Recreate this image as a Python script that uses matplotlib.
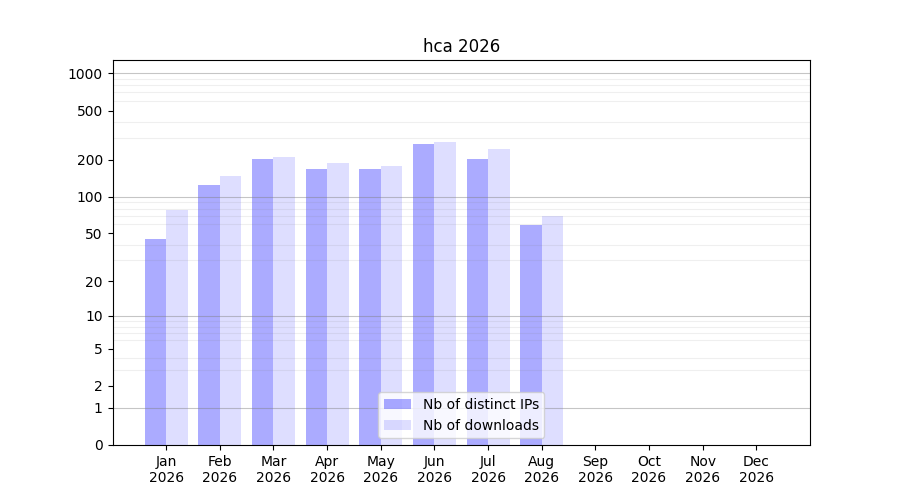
import numpy as np
import matplotlib
matplotlib.use("Agg")
import matplotlib.pyplot as plt

months = ["Jan", "Feb", "Mar", "Apr", "May", "Jun", "Jul", "Aug", "Sep", "Oct", "Nov", "Dec"]
year = "2026"
distinct_ips = [45, 124, 202, 168, 168, 268, 202, 59]
downloads = [78, 147, 210, 188, 178, 278, 244, 70]
yticks = [0, 1, 2, 5, 10, 20, 50, 100, 200, 500, 1000]


def fwd(y):
    return np.log10(np.maximum(y, 0) + 1)


def inv(y):
    return 10 ** y - 1


fig, ax = plt.subplots(figsize=(9, 5), dpi=100)

x = np.arange(1, len(distinct_ips) + 1)
ax.bar(x - 0.2, distinct_ips, width=0.4, color="blue", alpha=0.33, label="Nb of distinct IPs")
ax.bar(x + 0.2, downloads, width=0.4, color="blue", alpha=0.13, label="Nb of downloads")

ax.set_yscale("function", functions=(fwd, inv))
ax.set_yticks(yticks)
ax.set_yticklabels([str(t) for t in yticks])
minor = [m * 10 ** k for k in range(0, 4) for m in range(2, 10)]
ax.set_yticks(minor, minor=True)
ax.tick_params(axis="y", which="minor", length=0)
ax.set_ylim(0, 1280)

for d in [1, 10, 100, 1000]:
    ax.axhline(d, color="gray", alpha=0.45, linewidth=0.8, zorder=1.5)
ax.grid(True, axis="y", which="minor", color="gray", alpha=0.12, linewidth=0.8)

ax.set_xticks(np.arange(1, 13))
ax.set_xticklabels([m + "\n" + year for m in months])
ax.set_xlim(0, 13)

ax.set_title("hca " + year)
ax.legend(loc="lower center")

fig.savefig("out.png")
